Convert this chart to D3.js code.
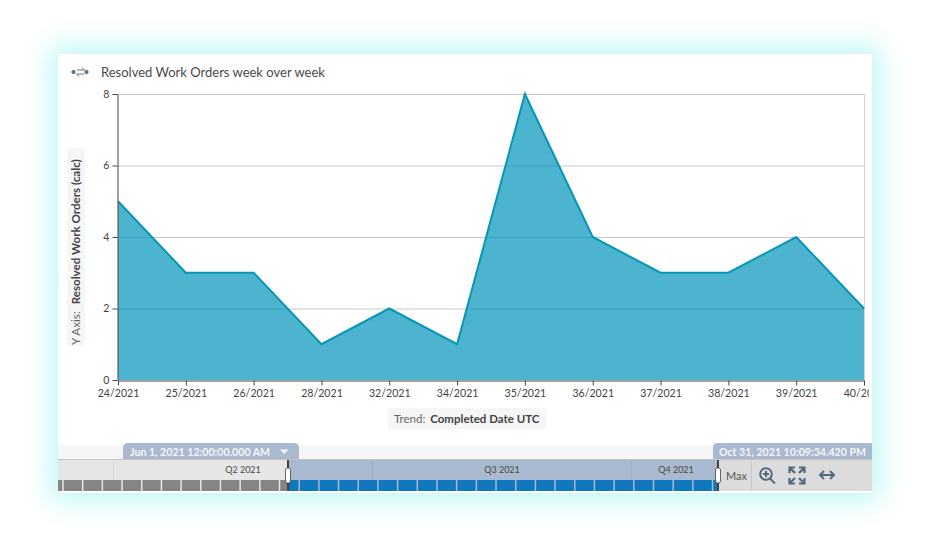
<!DOCTYPE html>
<html><head><meta charset="utf-8">
<script src="https://cdn.jsdelivr.net/npm/d3@7"></script>
<style>
html,body{margin:0;padding:0;background:#fff;width:930px;height:550px;overflow:hidden}
#card{position:absolute;left:58px;top:54px;width:814px;height:439px;background:#fff;box-shadow:0 0 26px 8px rgba(125,235,235,.48)}
svg{position:absolute;left:0;top:0;font-family:Lato,"Noto Sans",sans-serif}
</style></head><body>
<div id="card"></div>
<svg id="c" width="930" height="550"></svg>
<script>
const categories=["24/2021","25/2021","26/2021","28/2021","32/2021","34/2021","35/2021","36/2021","37/2021","38/2021","39/2021","40/2021"];
const values=[5,3,3,1,2,1,8,4,3,3,4,2];
const yTicks=[0,2,4,6,8];
const title="Resolved Work Orders week over week";
const quarters=[["Q2 2021","2021-04-01"],["Q3 2021","2021-07-01"],["Q4 2021","2021-10-01"]];
const selStart=new Date(2021,5,1), selEnd=new Date(2021,9,31,22,9,34);
const selStartLabel="Jun 1, 2021 12:00:00.000 AM", selEndLabel="Oct 31, 2021 10:09:34.420 PM";

const svg=d3.select("#c");
const L=118,R=864,T=94,B=380;
const x=d3.scalePoint().domain(categories).range([L,R]);
const y=d3.scaleLinear().domain([0,8]).range([B,T]);
const ink="#444";

// header
const ic=svg.append("g").attr("fill","none").attr("stroke","#5d7488").attr("stroke-width",1);
ic.append("circle").attr("cx",73.5).attr("cy",72).attr("r",1.7).attr("fill","#5d7488");
ic.append("circle").attr("cx",86.5).attr("cy",72).attr("r",1.7).attr("fill","#5d7488");
ic.append("path").attr("d","M77 70H84.5L82 67.5M84 74H76.5L79 76.5");
svg.append("text").attr("x",101).attr("y",77).attr("font-size",13).attr("fill","#4a4a4a").text(title);

// grid + frame
svg.append("g").selectAll("line").data(yTicks.filter(d=>d>0)).join("line")
 .attr("x1",L).attr("x2",R).attr("y1",d=>y(d)+.5).attr("y2",d=>y(d)+.5).attr("stroke","#c6c6c6");
svg.append("line").attr("x1",R+.5).attr("x2",R+.5).attr("y1",T).attr("y2",B).attr("stroke","#d4d4d4");

// area + line
svg.append("path").datum(values)
 .attr("d",d3.area().x((d,i)=>x(categories[i])).y0(B).y1(d=>y(d)))
 .attr("fill","#0094b9").attr("fill-opacity",.7);
svg.append("path").datum(values)
 .attr("d",d3.line().x((d,i)=>x(categories[i])).y(d=>y(d)))
 .attr("fill","none").attr("stroke","#0796b5").attr("stroke-width",2);

// axes
svg.append("clipPath").attr("id","xc").append("rect").attr("x",90).attr("y",B-2).attr("width",779).attr("height",30);
const gx=svg.append("g").attr("clip-path","url(#xc)")
 .append("g").attr("transform",`translate(0,${B+.5})`)
 .call(d3.axisBottom(x).tickSize(5).tickPadding(4).tickSizeOuter(0));
const gy=svg.append("g").attr("transform",`translate(${L-.5},0)`)
 .call(d3.axisLeft(y).tickValues(yTicks).tickSize(5).tickPadding(3).tickSizeOuter(0));
[gx,gy].forEach(g=>{g.attr("font-family",null).attr("font-size",null);
 g.selectAll("text").attr("font-size",10.6).attr("fill",ink);
 g.selectAll("line").attr("stroke","#444");
 g.select(".domain").attr("stroke","#444");});

// axis titles
svg.append("rect").attr("x",67).attr("y",148).attr("width",18).attr("height",198).attr("rx",2).attr("fill","#f6f6f6");
const yl=svg.append("text").attr("transform","translate(80,345) rotate(-90)").attr("font-size",11.6).attr("fill",ink);
yl.append("tspan").attr("fill","#666").text("Y Axis:");
yl.append("tspan").attr("dx",7).attr("font-weight",700).text("Resolved Work Orders (calc)");
svg.append("rect").attr("x",388).attr("y",408).attr("width",158).attr("height",21).attr("rx",2).attr("fill","#f6f6f6");
const xl=svg.append("text").attr("x",394).attr("y",423).attr("font-size",11.5).attr("fill",ink);
xl.append("tspan").attr("fill","#666").text("Trend:");
xl.append("tspan").attr("dx",5).attr("font-weight",700).text("Completed Date UTC");

// navigator
const t=d3.scaleTime().domain([new Date(2021,3,1),selStart,selEnd]).range([113.5,288,718]);
const tw=d3.scaleTime().domain([selStart,selEnd]).range([288.7,718.7]);
const NL=58,NR=872,NT=459,NB=491;
svg.append("rect").attr("x",NL).attr("y",445).attr("width",NR-NL).attr("height",14).attr("fill","#f6f6f6");
svg.append("rect").attr("x",NL).attr("y",NT).attr("width",288-NL).attr("height",NB-NT).attr("fill","#e6e6e6");
svg.append("rect").attr("x",288).attr("y",NT).attr("width",430).attr("height",NB-NT).attr("fill","#a9b9cf");
svg.append("rect").attr("x",718).attr("y",NT).attr("width",NR-718).attr("height",NB-NT).attr("fill","#dcdcdc");
svg.append("line").attr("x1",NL).attr("x2",NR).attr("y1",NT+.5).attr("y2",NT+.5).attr("stroke","#c4c4c4");

// quarter bands
quarters.forEach(q=>{const px=t(new Date(q[1]+"T00:00:00"));
 svg.append("line").attr("x1",px).attr("x2",px).attr("y1",460).attr("y2",480)
  .attr("stroke",px<288?"#dcdcdc":"#9eafc6");});
svg.append("g").selectAll("text").data(quarters).join("text")
 .attr("x",(d,i)=>[243,502,676][i]).attr("y",473).attr("text-anchor","middle")
 .attr("font-size",9).attr("fill","#4a4a4a").text(d=>d[0]);

// weekly ticks, each cell coloured by which side of the selection it falls on
const weeks=d3.timeSaturday.range(new Date(2021,1,1),new Date(2021,10,20));
const cells=d3.pairs(weeks);
svg.append("clipPath").attr("id","ncl").append("rect").attr("x",NL).attr("y",NT).attr("width",288-NL).attr("height",NB-NT);
svg.append("clipPath").attr("id","ncr").append("rect").attr("x",288).attr("y",NT).attr("width",430).attr("height",NB-NT);
[["ncl","#858585"],["ncr","#1278bd"]].forEach(([id,col])=>{
 svg.append("g").attr("clip-path",`url(#${id})`).selectAll("rect").data(cells).join("rect")
  .attr("x",d=>tw(d[0])).attr("width",d=>tw(d[1])-tw(d[0])-1.5).attr("y",480).attr("height",11).attr("fill",col);
});

// tabs
function tab(x0,x1,rr){
 const r=5;
 return `M${x0} 459V${443+r}Q${x0} 443 ${x0+r} 443H${x1-(rr?r:0)}${rr?`Q${x1} 443 ${x1} ${443+r}`:""}V459Z`;
}
svg.append("path").attr("d",tab(123,299,true)).attr("fill","#a9b9cf");
svg.append("path").attr("d",tab(713,872,false)).attr("fill","#a9b9cf");
svg.append("text").attr("x",130).attr("y",456).attr("font-size",10.6).attr("font-weight",700).attr("fill","#f4f6f9").text(selStartLabel);
svg.append("path").attr("d","M280 449.5H288.5L284.2 454Z").attr("fill","#f4f6f9");
svg.append("text").attr("x",719).attr("y",456).attr("font-size",10.6).attr("font-weight",700).attr("fill","#f4f6f9").text(selEndLabel);

// handles
[288,718].forEach(px=>{
 svg.append("line").attr("x1",px).attr("x2",px).attr("y1",460).attr("y2",491).attr("stroke","#444").attr("stroke-width",2);
 svg.append("rect").attr("x",px-2.5).attr("y",468).attr("width",5).attr("height",15).attr("rx",2).attr("fill","#fff").attr("stroke","#444").attr("stroke-width",.8);
});

// toolbar
svg.append("text").attr("x",726).attr("y",480).attr("font-size",11).attr("fill","#555").text("Max");
svg.append("line").attr("x1",751.5).attr("x2",751.5).attr("y1",460).attr("y2",491).attr("stroke","#c8c8c8");
const tb=svg.append("g").attr("fill","none").attr("stroke","#54697c").attr("stroke-width",2);
tb.append("circle").attr("cx",766).attr("cy",474).attr("r",5.8);
tb.append("path").attr("d","M770 478.5L775 483.5M763 474H769M766 471V477");
tb.append("path").attr("stroke-width",2.2).attr("d","M789.5 473V467.5H795M799 467.5H804.5V473M804.5 478V483.5H799M795 483.5H789.5V478M790 468L795 473M804 468L799 473M804 483L799 478M790 483L795 478");
tb.append("path").attr("d","M820 475H834M824 471L820 475L824 479M830 471L834 475L830 479");
</script>
</body></html>
